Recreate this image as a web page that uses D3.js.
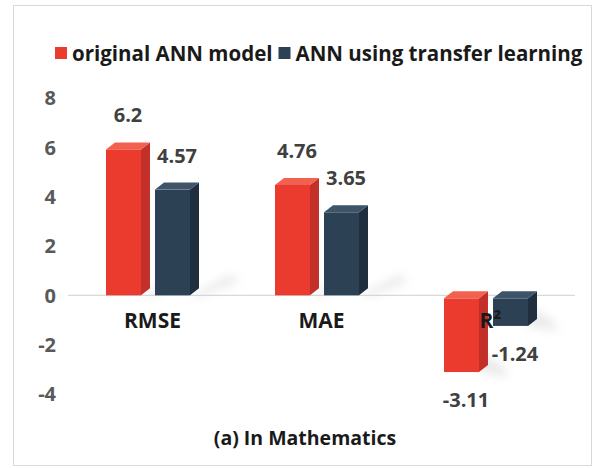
<!DOCTYPE html>
<html>
<head>
<meta charset="utf-8">
<script src="https://cdn.jsdelivr.net/npm/d3@7"></script>
<style>
  body { margin: 0; background: #fff; }
  svg text { font-family: "Open Sans", "Noto Sans", sans-serif; font-weight: 700; }
</style>
</head>
<body>
<svg id="chart" width="595" height="468"></svg>
<script>
// data
const categories = ["RMSE", "MAE", "R\u00b2"];
const seriesNames = ["original ANN model", "ANN using transfer learning"];
const originalValues = [6.2, 4.76, -3.11];
const transferValues = [4.57, 3.65, -1.24];
const yTicks = [-4, -2, 0, 2, 4, 6, 8];

const colors = {
  "original ANN model": { front: "#ea3b2e", side: "#c3302a", top: "#f2604f" },
  "ANN using transfer learning": { front: "#2c4154", side: "#1f2f3e", top: "#3e5469" }
};

const svg = d3.select("#chart");
const depthX = 9, depthY = 7;

const rows = categories.map((c, i) => ({
  category: c,
  values: [
    { series: seriesNames[0], value: originalValues[i] },
    { series: seriesNames[1], value: transferValues[i] }
  ]
}));

// frame
svg.append("rect")
  .attr("x", 13.5).attr("y", 5.5)
  .attr("width", 578).attr("height", 460)
  .attr("fill", "#fff").attr("stroke", "#d9d9d9");

const defs = svg.append("defs");
defs.append("filter").attr("id", "blur")
  .attr("x", "-50%").attr("y", "-50%").attr("width", "200%").attr("height", "200%")
  .append("feGaussianBlur").attr("stdDeviation", 5);

const x = d3.scaleBand().domain(categories).range([68, 575]);
const xs = d3.scaleBand().domain(seriesNames).range([38, 122]).paddingInner(0.286);
const y = d3.scaleLinear().domain([-4, 8]).range([394, 98]);
const y0 = y(0);

// y tick labels
svg.append("g").selectAll("text")
  .data(yTicks).join("text")
  .attr("x", 56).attr("y", d => y(d))
  .attr("dy", "0.36em")
  .attr("text-anchor", "end")
  .attr("font-size", 20)
  .attr("fill", "#595959")
  .text(d => d);

// zero line
svg.append("line")
  .attr("x1", 68).attr("x2", 575)
  .attr("y1", y0).attr("y2", y0)
  .attr("stroke", "#d9d9d9").attr("stroke-width", 1.2);

const group = svg.append("g").selectAll("g")
  .data(rows).join("g")
  .attr("transform", d => `translate(${x(d.category)},0)`);

const bar = group.selectAll("g")
  .data(d => d.values).join("g")
  .attr("transform", d => `translate(${xs(d.series)},0)`);

const w = xs.bandwidth();

// soft shadow behind the bars
bar.filter(d => d.value > 0).append("path")
  .attr("d", d => {
    const h = Math.min(y0 - y(d.value), 40);
    return `M${w},${y0} L${w + 40},${y0 - h * 0.5} L${w + 50},${y0 - h * 0.35} L${w + 10},${y0 + 1} Z`;
  })
  .attr("fill", "#aaa").attr("opacity", 0.25)
  .attr("filter", "url(#blur)");

bar.filter(d => d.value < 0).append("path")
  .attr("d", d => {
    const yb = y(d.value);
    return `M${w},${yb - 20} L${w + 25},${yb - 5} L${w + 30},${yb + 5} L${w},${yb} Z`;
  })
  .attr("fill", "#aaa").attr("opacity", 0.25)
  .attr("filter", "url(#blur)");

// front face
bar.append("rect")
  .attr("x", 0).attr("width", w)
  .attr("y", d => d.value >= 0 ? y(d.value) + depthY : y0 + 3)
  .attr("height", d => d.value >= 0 ? y0 - y(d.value) - depthY : y(d.value) - y0 - 3)
  .attr("fill", d => colors[d.series].front);

// side face
bar.append("path")
  .attr("d", d => {
    const ft = d.value >= 0 ? y(d.value) + depthY : y0 + 3;
    const fb = d.value >= 0 ? y0 : y(d.value);
    return `M${w},${ft} L${w + depthX},${ft - depthY} L${w + depthX},${fb - depthY} L${w},${fb} Z`;
  })
  .attr("fill", d => colors[d.series].side);

// top face
bar.append("path")
  .attr("d", d => {
    const ft = d.value >= 0 ? y(d.value) + depthY : y0 + 3;
    return `M0,${ft} L${depthX},${ft - depthY} L${w + depthX},${ft - depthY} L${w},${ft} Z`;
  })
  .attr("fill", d => colors[d.series].top);

// value labels
bar.append("text")
  .attr("x", (w + depthX) / 2)
  .attr("y", d => d.value >= 0 ? y(d.value) - 20 : y(d.value) + 35)
  .attr("text-anchor", "middle")
  .attr("font-size", 20)
  .attr("fill", "#404040")
  .text(d => d.value);

// category labels
svg.append("g").selectAll("text")
  .data(categories).join("text")
  .attr("x", d => x(d) + x.bandwidth() / 2)
  .attr("y", 328)
  .attr("text-anchor", "middle")
  .attr("font-size", 21)
  .attr("fill", "#1a1a1a")
  .text(d => d);

// legend
const legend = svg.append("g").attr("transform", "translate(55,0)");
let lx = 0;
seriesNames.forEach(name => {
  legend.append("rect")
    .attr("x", lx).attr("y", 47)
    .attr("width", 12).attr("height", 12)
    .attr("fill", colors[name].front);
  const t = legend.append("text")
    .attr("x", lx + 17).attr("y", 61)
    .attr("font-size", 20.5)
    .attr("fill", "#1a1a1a")
    .text(name);
  lx += 17 + t.node().getComputedTextLength() + 6;
});

// caption
svg.append("text")
  .attr("x", 305).attr("y", 445)
  .attr("text-anchor", "middle")
  .attr("font-size", 19.5)
  .attr("fill", "#1a1a1a")
  .text("(a) In Mathematics");
</script>
</body>
</html>
